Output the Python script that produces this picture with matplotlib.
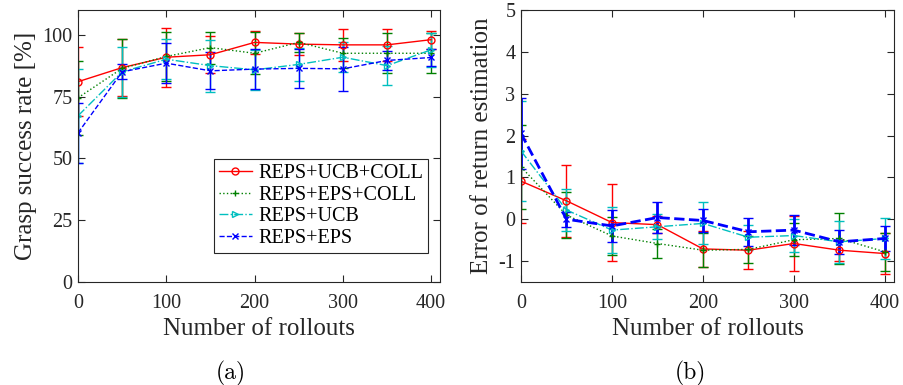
import matplotlib
matplotlib.use("Agg")
import matplotlib.pyplot as plt
from matplotlib.lines import Line2D
import numpy as np

rollouts = [0, 50, 100, 150, 200, 250, 300, 350, 400]
labels = ["REPS+UCB+COLL", "REPS+EPS+COLL", "REPS+UCB", "REPS+EPS"]

# (a) Grasp success rate [%]
succ_ucb_coll = [81.0, 86.7, 90.9, 91.9, 96.9, 96.2, 95.9, 95.9, 98.0]
succ_ucb_coll_err = [14.0, 11.5, 12.0, 7.5, 4.5, 4.5, 6.5, 6.5, 3.7]
succ_eps_coll = [74.5, 86.4, 91.2, 94.8, 92.5, 96.9, 92.5, 92.5, 92.5]
succ_eps_coll_err = [15.0, 12.0, 10.0, 6.5, 8.5, 4.0, 6.0, 8.0, 8.0]
succ_ucb = [67.2, 85.0, 90.1, 87.5, 85.8, 88.0, 90.9, 87.5, 93.9]
succ_ucb_err = [19.0, 10.0, 8.0, 10.5, 8.0, 6.6, 6.0, 8.0, 7.0]
succ_eps = [60.3, 85.0, 88.5, 85.4, 86.1, 86.4, 86.2, 89.6, 90.8]
succ_eps_err = [12.0, 3.0, 8.0, 7.5, 8.0, 8.0, 9.0, 4.0, 3.5]

# (b) Error of return estimation
err_ucb_coll = [0.91, 0.44, -0.08, -0.13, -0.71, -0.74, -0.58, -0.74, -0.82]
err_ucb_coll_err = [1.0, 0.86, 0.93, 0.2, 0.43, 0.45, 0.65, 0.25, 0.5]
err_eps_coll = [1.25, 0.10, -0.40, -0.58, -0.74, -0.72, -0.49, -0.46, -0.78]
err_eps_coll_err = [1.0, 0.55, 0.45, 0.35, 0.4, 0.33, 0.4, 0.6, 0.45]
err_ucb = [1.63, 0.22, -0.26, -0.18, -0.10, -0.43, -0.39, -0.54, -0.46]
err_ucb_err = [1.2, 0.5, 0.55, 0.3, 0.5, 0.3, 0.4, 0.5, 0.5]
err_eps = [2.05, 0.0, -0.16, 0.04, -0.03, -0.30, -0.26, -0.54, -0.46]
err_eps_err = [0.85, 0.18, 0.38, 0.37, 0.27, 0.33, 0.36, 0.28, 0.29]

colors = ["#ff0000", "#008000", "#00bfbf", "#0000ff"]
styles = ["-", ":", "-.", "--"]
markers = ["o", "+", ">", "x"]

serif = ["Liberation Serif", "DejaVu Serif"]
plt.rcParams["font.family"] = serif
plt.rcParams["axes.unicode_minus"] = False

fig = plt.figure(figsize=(9.04, 3.85), dpi=100)
axA = fig.add_axes([78/904, 103/385, 362/904, 272/385])
axB = fig.add_axes([521/904, 103/385, 373/904, 272/385])

def draw(ax, series, errs, lws):
    for y, e, c, ls, m, lw in zip(series, errs, colors, styles, markers, lws):
        ax.errorbar(rollouts, y, yerr=e, color=c, ls=ls, lw=lw, marker=m,
                    ms=5, mfc="none", mec=c, mew=1.0,
                    elinewidth=lw, capsize=3.5, capthick=lw)
    ax.set_xlim(0, 410)
    ax.set_xticks([0, 100, 200, 300, 400])
    ax.tick_params(direction="in", top=True, right=True, length=5,
                   labelsize=14.5, colors="#262626", labelcolor="#262626")
    ax.tick_params(axis="x", pad=9)
    ax.tick_params(axis="y", pad=4)
    for s in ax.spines.values():
        s.set_color("#262626")
        s.set_linewidth(0.8)
    ax.set_xlabel("Number of rollouts", fontsize=18, color="#262626", labelpad=3)

draw(axA, [succ_ucb_coll, succ_eps_coll, succ_ucb, succ_eps],
     [succ_ucb_coll_err, succ_eps_coll_err, succ_ucb_err, succ_eps_err],
     [1.0, 1.0, 1.0, 1.0])
axA.set_ylim(0, 110)
axA.set_yticks([0, 25, 50, 75, 100])
axA.set_ylabel("Grasp success rate [%]", fontsize=18, color="#262626", labelpad=4)

handles = [Line2D([], [], color=c, ls=ls, marker=m, ms=5, mfc="none", mec=c, lw=1.0)
           for c, ls, m in zip(colors, styles, markers)]
leg = axA.legend(handles, labels, loc="lower right", bbox_to_anchor=(0.967, 0.107),
                 borderaxespad=0, fontsize=14.5, handlelength=1.65,
                 handletextpad=0.3, labelspacing=0.12, borderpad=0.25,
                 fancybox=False, framealpha=1, edgecolor="#262626")
leg.get_frame().set_linewidth(0.8)

draw(axB, [err_ucb_coll, err_eps_coll, err_ucb, err_eps],
     [err_ucb_coll_err, err_eps_coll_err, err_ucb_err, err_eps_err],
     [1.0, 1.0, 1.0, 2.0])
axB.set_ylim(-1.5, 5)
axB.set_yticks([-1, 0, 1, 2, 3, 4, 5])
axB.set_ylabel("Error of return estimation", fontsize=18, color="#262626", labelpad=4)

fig.text(231/904, 1 - 373/385, "(a)", ha="center", va="center", fontsize=17,
         family=["cmr10", "DejaVu Serif"])
fig.text(690/904, 1 - 373/385, "(b)", ha="center", va="center", fontsize=17,
         family=["cmr10", "DejaVu Serif"])

fig.savefig("out.png", dpi=100)
